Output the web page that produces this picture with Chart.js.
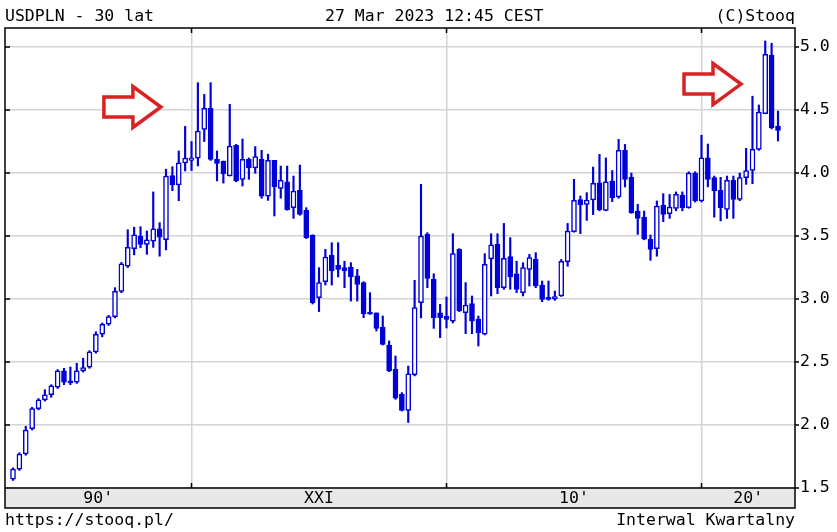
<!DOCTYPE html>
<html>
<head>
<meta charset="utf-8">
<script src="https://cdn.jsdelivr.net/npm/chart.js@4"></script>
<style>
  body { margin: 0; background: #fff; }
  #wrap { position: relative; width: 837px; height: 532px; }
  #chart { position: absolute; left: 0; top: 0; }
  .txt { position: absolute; font-family: 'DejaVu Sans Mono', monospace; font-size: 16.5px; line-height: 20px; color: #000; white-space: pre; }
</style>
</head>
<body>
<div id="wrap">
  <canvas id="chart" width="837" height="532"></canvas>
  <div class="txt" style="left:5px;top:6px">USDPLN - 30 lat</div>
  <div class="txt" style="left:325px;top:6px">27 Mar 2023 12:45 CEST</div>
  <div class="txt" style="right:42px;top:6px">(C)Stooq</div>
  <div class="txt" style="left:5px;top:510px">https://stooq.pl/</div>
  <div class="txt" style="right:42px;top:510px">Interwal Kwartalny</div>
</div>
<script>
// quarterly candles, first one is 1993 Q1
const firstYear = 1993;
const opens = [
  1.57, 1.65, 1.77, 1.97, 2.13, 2.20, 2.24, 2.30, 2.43, 2.345,
  2.34, 2.43, 2.46, 2.58, 2.72, 2.80, 2.86, 3.06, 3.26, 3.40,
  3.50, 3.434, 3.46, 3.558, 3.47, 3.98, 3.905, 4.08, 4.10, 4.117,
  4.346, 4.513, 4.108, 4.095, 3.976, 4.22, 3.95, 4.108, 4.04, 4.109,
  3.817, 4.10, 3.878, 3.93, 3.725, 3.862, 3.704, 3.508, 3.01, 3.138,
  3.347, 3.267, 3.249, 3.254, 3.183, 3.13, 2.89, 2.89, 2.778, 2.635,
  2.442, 2.243, 2.116, 2.40, 2.971, 3.513, 3.156, 2.89, 2.865, 2.825,
  3.394, 2.892, 2.963, 2.84, 2.72, 3.318, 3.434, 3.09, 3.336, 3.20,
  3.05, 3.235, 3.315, 3.111, 3.016, 3.00, 3.024, 3.296, 3.534, 3.79,
  3.751, 3.786, 3.923, 3.704, 3.936, 3.81, 4.18, 3.968, 3.698, 3.65,
  3.474, 3.40, 3.746, 3.677, 3.72, 3.825, 3.725, 4.0, 3.778, 4.12,
  3.963, 3.862, 3.712, 3.942, 3.79, 3.963, 4.02, 4.188, 4.471, 4.936,
  4.373
];
const highs = [
  1.66, 1.78, 1.99, 2.14, 2.21, 2.28, 2.32, 2.44, 2.45, 2.46,
  2.49, 2.53, 2.59, 2.74, 2.81, 2.87, 3.09, 3.29, 3.55, 3.57,
  3.574, 3.54, 3.85, 3.606, 4.03, 4.05, 4.175, 4.37, 4.25, 4.717,
  4.624, 4.717, 4.175, 4.095, 4.545, 4.227, 4.27, 4.12, 4.21, 4.18,
  4.15, 4.10, 4.055, 4.055, 3.976, 4.063, 3.725, 3.51, 3.249, 3.394,
  3.447, 3.447, 3.30, 3.288, 3.235, 3.138, 3.05, 2.89, 2.865, 2.667,
  2.548, 2.257, 2.468, 3.148, 3.91, 3.526, 3.20, 2.958, 3.016, 3.518,
  3.40, 3.13, 3.024, 2.865, 3.36, 3.518, 3.518, 3.60, 3.487, 3.30,
  3.288, 3.354, 3.368, 3.143, 3.143, 3.063, 3.314, 3.60, 3.95, 3.817,
  3.844, 4.047, 4.148, 4.12, 4.02, 4.267, 4.227, 4.0, 3.751, 3.698,
  3.508, 3.778, 3.836, 3.83, 3.85, 3.85, 4.01, 4.01, 4.30, 4.23,
  3.976, 3.966, 3.976, 3.976, 4.0, 4.196, 4.61, 4.54, 5.048, 5.03,
  4.492
];
const lows = [
  1.56, 1.64, 1.76, 1.96, 2.12, 2.19, 2.22, 2.29, 2.32, 2.32,
  2.33, 2.42, 2.45, 2.57, 2.70, 2.79, 2.85, 3.05, 3.25, 3.35,
  3.407, 3.355, 3.41, 3.34, 3.39, 3.86, 3.78, 4.016, 4.02, 4.056,
  4.25, 4.10, 3.937, 3.92, 3.976, 3.93, 3.897, 3.95, 3.998, 3.80,
  3.783, 3.659, 3.80, 3.705, 3.64, 3.665, 3.48, 2.96, 2.90, 3.111,
  3.111, 3.175, 3.09, 2.984, 2.984, 2.852, 2.878, 2.746, 2.635, 2.423,
  2.204, 2.111, 2.02, 2.39, 2.85, 3.09, 2.767, 2.693, 2.77, 2.81,
  2.90, 2.725, 2.725, 2.627, 2.715, 3.024, 3.042, 3.077, 3.077, 3.05,
  3.024, 3.103, 3.09, 2.979, 2.99, 2.99, 3.02, 3.26, 3.53, 3.519,
  3.624, 3.67, 3.70, 3.70, 3.773, 3.80, 3.889, 3.68, 3.513, 3.47,
  3.307, 3.34, 3.614, 3.64, 3.70, 3.70, 3.72, 3.77, 3.77, 3.89,
  3.65, 3.62, 3.64, 3.64, 3.78, 3.91, 3.915, 4.18, 4.47, 4.35,
  4.254
];
const closes = [
  1.65, 1.77, 1.96, 2.13, 2.20, 2.24, 2.31, 2.43, 2.34, 2.335,
  2.43, 2.455, 2.58, 2.72, 2.80, 2.86, 3.06, 3.28, 3.41, 3.51,
  3.434, 3.47, 3.558, 3.49, 3.976, 3.905, 4.08, 4.119, 4.12, 4.333,
  4.513, 4.108, 4.077, 3.995, 4.214, 3.94, 4.108, 4.04, 4.13, 3.817,
  4.10, 3.889, 3.942, 3.71, 3.857, 3.672, 3.487, 2.971, 3.13, 3.333,
  3.222, 3.235, 3.222, 3.175, 3.116, 2.884, 2.88, 2.767, 2.64, 2.429,
  2.212, 2.116, 2.407, 2.931, 3.50, 3.164, 2.852, 2.852, 2.839, 3.36,
  2.905, 2.952, 2.825, 2.733, 3.275, 3.43, 3.09, 3.323, 3.175, 3.077,
  3.249, 3.328, 3.103, 2.997, 2.997, 3.02, 3.30, 3.54, 3.783, 3.746,
  3.786, 3.918, 3.71, 3.93, 3.804, 4.18, 3.95, 3.685, 3.64, 3.474,
  3.394, 3.738, 3.672, 3.73, 3.83, 3.725, 4.0, 3.778, 4.12, 3.95,
  3.857, 3.725, 3.942, 3.79, 3.963, 4.02, 4.188, 4.484, 4.942, 4.36,
  4.339
];

const yTicks = [1.5, 2.0, 2.5, 3.0, 3.5, 4.0, 4.5, 5.0];
const decadeLines = [2000, 2010, 2020];
const decadeLabels = ["90'", 'XXI', "10'", "20'"];
const xMin = 1992.686, xMax = 2023.667;
const yMin = 1.5, yMax = 5.151;
// arrow tips in data units
const arrowTips = [{x: 1998.80, y: 4.524}, {x: 2021.55, y: 4.706}];

const blue = '#0000d8';
const gridColor = '#d4d4d4';
const monoFont = {family: "'DejaVu Sans Mono', monospace", size: 16.5};

const quarterX = opens.map((o, i) => firstYear + i / 4);
const bodies = quarterX.map((x, i) => ({x: x, y: [opens[i], closes[i]]}));
const wicks = quarterX.map((x, i) => ({x: x, y: [lows[i], highs[i]]}));
const bandLabelAt = [(xMin + 2000) / 2, 2005, 2015, (2020 + xMax) / 2];

const stooqFrame = {
    id: 'stooqFrame',
    beforeDraw(chart) {
        const ctx = chart.ctx;
        const a = chart.chartArea;
        const band = chart.scales.band;
        ctx.save();
        ctx.fillStyle = '#e8e8e8';
        ctx.fillRect(a.left, band.top, a.right - a.left, band.bottom - band.top);
        ctx.restore();
    },
    afterDraw(chart) {
        const ctx = chart.ctx;
        const a = chart.chartArea;
        const band = chart.scales.band;
        const xs = chart.scales.x, ys = chart.scales.y;
        ctx.save();
        ctx.strokeStyle = '#000';
        ctx.lineWidth = 1.5;
        ctx.strokeRect(a.left, a.top, a.right - a.left, band.bottom - a.top);
        ctx.beginPath();
        ctx.moveTo(a.left, a.bottom);
        ctx.lineTo(a.right, a.bottom);
        yTicks.forEach(v => {
            const py = ys.getPixelForValue(v);
            ctx.moveTo(a.left, py);
            ctx.lineTo(a.left + 5, py);
            ctx.moveTo(a.right, py);
            ctx.lineTo(a.right + 4, py);
        });
        decadeLines.forEach(v => {
            const px = xs.getPixelForValue(v);
            ctx.moveTo(px, a.top);
            ctx.lineTo(px, a.top + 5);
            ctx.moveTo(px, a.bottom);
            ctx.lineTo(px, a.bottom - 5);
        });
        ctx.stroke();

        // red outline arrows
        ctx.strokeStyle = '#d92222';
        ctx.fillStyle = '#fff';
        ctx.lineWidth = 3.5;
        ctx.lineJoin = 'miter';
        arrowTips.forEach(t => {
            const tx = xs.getPixelForValue(t.x);
            const ty = ys.getPixelForValue(t.y);
            ctx.beginPath();
            ctx.moveTo(tx - 57, ty - 10);
            ctx.lineTo(tx - 28, ty - 10);
            ctx.lineTo(tx - 28, ty - 20.5);
            ctx.lineTo(tx, ty);
            ctx.lineTo(tx - 28, ty + 20.5);
            ctx.lineTo(tx - 28, ty + 10);
            ctx.lineTo(tx - 57, ty + 10);
            ctx.closePath();
            ctx.fill();
            ctx.stroke();
        });
        ctx.restore();
    }
};

const ctx = document.getElementById('chart').getContext('2d');
new Chart(ctx, {
    type: 'bar',
    data: {
        datasets: [{
            label: 'body',
            data: bodies,
            order: 0,
            grouped: false,
            barThickness: 5,
            minBarLength: 2,
            backgroundColor: c => closes[c.dataIndex] >= opens[c.dataIndex] ? '#ffffff' : blue,
            borderColor: blue,
            borderWidth: 1.5,
            borderSkipped: false
        }, {
            label: 'wick',
            data: wicks,
            order: 1,
            grouped: false,
            barThickness: 1.5,
            backgroundColor: blue,
            borderWidth: 0
        }]
    },
    options: {
        responsive: false,
        animation: false,
        layout: { padding: { left: 5, top: 28, right: 0, bottom: 24 } },
        scales: {
            x: {
                type: 'linear',
                position: 'bottom',
                weight: 0,
                min: xMin,
                max: xMax,
                offset: false,
                afterBuildTicks: s => { s.ticks = decadeLines.map(v => ({value: v})); },
                afterFit: s => { s.height = 0; },
                grid: { color: gridColor, lineWidth: 1.5, drawTicks: false, offset: false },
                border: { display: false },
                ticks: { display: false }
            },
            band: {
                type: 'linear',
                position: 'bottom',
                weight: 1,
                min: xMin,
                max: xMax,
                offset: false,
                afterBuildTicks: s => { s.ticks = bandLabelAt.map(v => ({value: v})); },
                afterFit: s => { s.height = 20; },
                grid: { display: false, drawTicks: false },
                border: { display: false },
                ticks: {
                    padding: 1,
                    color: '#000',
                    font: monoFont,
                    maxRotation: 0,
                    autoSkip: false,
                    callback: (v, i) => decadeLabels[i]
                }
            },
            y: {
                position: 'right',
                min: yMin,
                max: yMax,
                afterBuildTicks: s => { s.ticks = yTicks.map(v => ({value: v})); },
                afterFit: s => { s.width = 42; },
                grid: { color: gridColor, lineWidth: 1.5, drawTicks: false },
                border: { display: false },
                ticks: {
                    padding: 5,
                    color: '#000',
                    font: monoFont,
                    callback: v => v.toFixed(1)
                }
            }
        },
        plugins: {
            legend: { display: false },
            tooltip: { enabled: false }
        }
    },
    plugins: [stooqFrame]
});
</script>
</body>
</html>
